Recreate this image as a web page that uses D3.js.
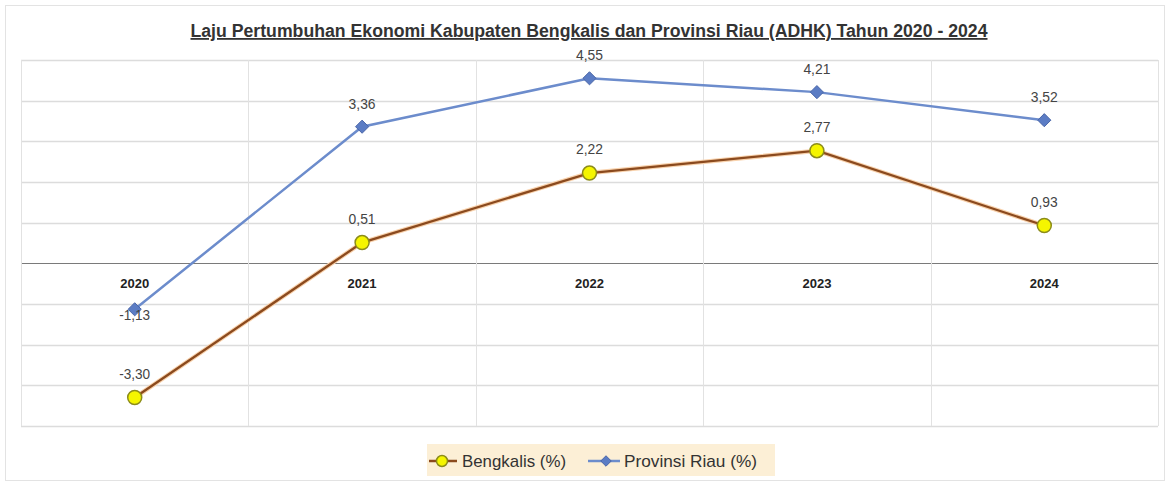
<!DOCTYPE html>
<html>
<head>
<meta charset="utf-8">
<script src="https://cdn.jsdelivr.net/npm/d3@7"></script>
<style>
  body { margin: 0; background: #fff; }
  svg text { font-family: "Liberation Sans Narrow", "Arial Narrow", "Liberation Sans", sans-serif; }
</style>
</head>
<body>
<div id="chart"></div>
<script>
var years = ["2020", "2021", "2022", "2023", "2024"];
var bengkalis = [-3.30, 0.51, 2.22, 2.77, 0.93];
var riau = [-1.13, 3.36, 4.55, 4.21, 3.52];
var yTicks = [-4, -3, -2, -1, 0, 1, 2, 3, 4, 5];
var seriesNames = ["Bengkalis (%)", "Provinsi Riau (%)"];

var width = 1169, height = 481;
var margin = {top: 60, right: 11, bottom: 55, left: 21};

var svg = d3.select("#chart").append("svg")
    .attr("width", width)
    .attr("height", height);

// outer frame
svg.append("rect")
    .attr("x", 5.5).attr("y", 5.5)
    .attr("width", width - 10).attr("height", height - 6)
    .attr("fill", "none")
    .attr("stroke", "#e3e3e3");

var x = d3.scaleBand()
    .domain(years)
    .range([margin.left, width - margin.right]);

var y = d3.scaleLinear()
    .domain([-4, 5])
    .range([height - margin.bottom, margin.top]);

// comma decimals, plain hyphen for negatives
var fmt = function(v) { return v.toFixed(2).replace(".", ","); };

// grid
var grid = svg.append("g");
grid.selectAll("line.h").data(yTicks)
    .enter().append("line")
    .attr("x1", margin.left).attr("x2", width - margin.right)
    .attr("y1", function(d) { return Math.round(y(d)) + 0.5; })
    .attr("y2", function(d) { return Math.round(y(d)) + 0.5; })
    .attr("stroke", function(d) { return d === 0 ? "#7a7a7a" : "#dcdcdc"; })
    .attr("stroke-width", function(d) { return d === 0 ? 1.2 : 1.5; });

var vx = [margin.left].concat(years.map(function(d) { return x(d) + x.bandwidth(); }));
grid.selectAll("line.v").data(vx)
    .enter().append("line")
    .attr("x1", function(d) { return Math.round(d) + 0.5; })
    .attr("x2", function(d) { return Math.round(d) + 0.5; })
    .attr("y1", y(5)).attr("y2", y(-4))
    .attr("stroke", "#e2e2e2");

// category labels just under zero line
svg.append("g").selectAll("text").data(years)
    .enter().append("text")
    .attr("x", function(d) { return x(d) + x.bandwidth() / 2; })
    .attr("y", y(0) + 25)
    .attr("text-anchor", "middle")
    .attr("font-size", 13)
    .attr("font-weight", "bold")
    .attr("fill", "#222")
    .attr("textLength", 29)
    .attr("lengthAdjust", "spacingAndGlyphs")
    .text(function(d) { return d; });

var cx = function(d, i) { return x(years[i]) + x.bandwidth() / 2; };
var line = d3.line()
    .x(function(d, i) { return cx(d, i); })
    .y(function(d) { return y(d); });

// Riau line
svg.append("path")
    .datum(riau)
    .attr("fill", "none")
    .attr("stroke", "#6c8ccc")
    .attr("stroke-width", 2.5)
    .attr("d", line);

// Bengkalis line, with a soft orange halo
svg.append("path")
    .datum(bengkalis)
    .attr("fill", "none")
    .attr("stroke", "#f8d2ad")
    .attr("stroke-width", 4.5)
    .attr("d", line);
svg.append("path")
    .datum(bengkalis)
    .attr("fill", "none")
    .attr("stroke", "#8b4a1e")
    .attr("stroke-width", 2.3)
    .attr("d", line);

var diamond = d3.symbol().type(d3.symbolDiamond2).size(110);

svg.append("g").selectAll("path").data(riau)
    .enter().append("path")
    .attr("transform", function(d, i) { return "translate(" + cx(d, i) + "," + y(d) + ")"; })
    .attr("d", diamond)
    .attr("fill", "#5b7cc4")
    .attr("stroke", "#4a66a8")
    .attr("stroke-width", 1);

svg.append("g").selectAll("circle").data(bengkalis)
    .enter().append("circle")
    .attr("cx", function(d, i) { return cx(d, i); })
    .attr("cy", function(d) { return y(d); })
    .attr("r", 7)
    .attr("fill", "#f5f500")
    .attr("stroke", "#8c8c1a")
    .attr("stroke-width", 1.5);

// data labels
function labels(data, offsetFn) {
  svg.append("g").selectAll("text").data(data)
    .enter().append("text")
    .attr("x", function(d, i) { return cx(d, i); })
    .attr("y", function(d, i) { return y(d) + offsetFn(d, i); })
    .attr("text-anchor", "middle")
    .attr("font-size", 15)
    .attr("fill", "#444")
    .attr("textLength", function(d) { return d < 0 ? 31 : 27; })
    .attr("lengthAdjust", "spacingAndGlyphs")
    .text(fmt);
}
labels(riau, function(d, i) { return i === 0 ? 11 : -18; });
labels(bengkalis, function(d, i) { return -19; });

// title
svg.append("text")
    .attr("x", 589)
    .attr("y", 37)
    .attr("text-anchor", "middle")
    .attr("font-size", 18)
    .attr("font-weight", "bold")
    .attr("fill", "#333")
    .attr("text-decoration", "underline")
    .attr("textLength", 797)
    .attr("lengthAdjust", "spacingAndGlyphs")
    .text("Laju Pertumbuhan Ekonomi Kabupaten Bengkalis dan Provinsi Riau (ADHK) Tahun 2020 - 2024");

// legend
var lg = svg.append("g").attr("transform", "translate(427,444)");
lg.append("rect")
    .attr("width", 348).attr("height", 32)
    .attr("fill", "#fcefd6");
lg.append("line").attr("x1", 2).attr("x2", 30).attr("y1", 17).attr("y2", 17)
    .attr("stroke", "#8b4a1e").attr("stroke-width", 2.5);
lg.append("circle").attr("cx", 15).attr("cy", 17).attr("r", 5.5)
    .attr("fill", "#f5f500").attr("stroke", "#8c8c1a").attr("stroke-width", 1.5);
lg.append("text").attr("x", 35).attr("y", 23).attr("font-size", 17).attr("fill", "#333")
    .attr("textLength", 104).attr("lengthAdjust", "spacingAndGlyphs")
    .text(seriesNames[0]);
lg.append("line").attr("x1", 161).attr("x2", 193).attr("y1", 17).attr("y2", 17)
    .attr("stroke", "#6c8ccc").attr("stroke-width", 2.5);
lg.append("path").attr("transform", "translate(179,17)")
    .attr("d", d3.symbol().type(d3.symbolDiamond2).size(70))
    .attr("fill", "#5b7cc4").attr("stroke", "#4a66a8");
lg.append("text").attr("x", 197).attr("y", 23).attr("font-size", 17).attr("fill", "#333")
    .attr("textLength", 133).attr("lengthAdjust", "spacingAndGlyphs")
    .text(seriesNames[1]);
</script>
</body>
</html>
